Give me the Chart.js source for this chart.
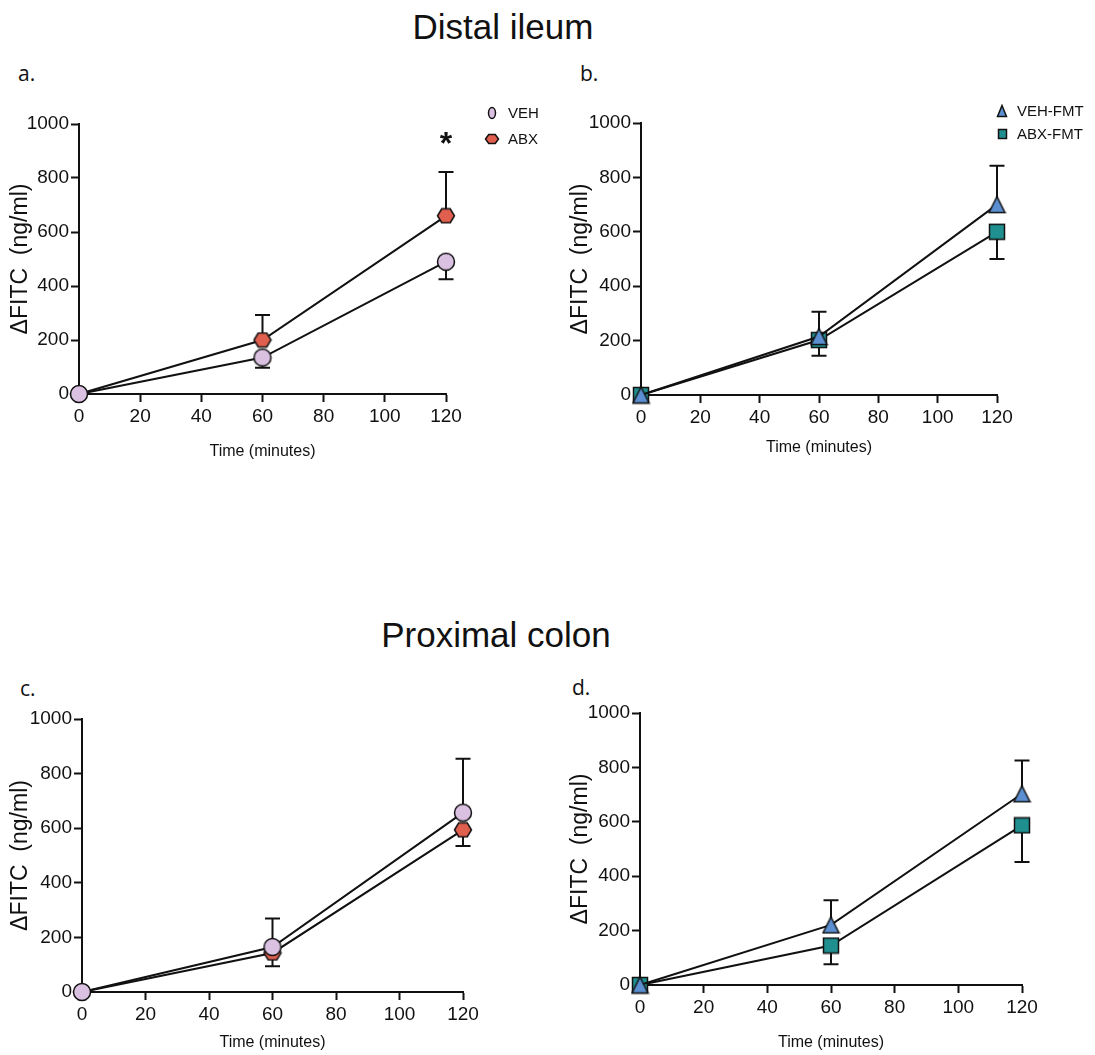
<!DOCTYPE html>
<html>
<head>
<meta charset="utf-8">
<script src="https://cdn.jsdelivr.net/npm/chart.js@4/dist/chart.umd.min.js"></script>
<style>
  body { margin: 0; background: #fff; width: 1095px; height: 1055px; position: relative; overflow: hidden; font-family: 'Liberation Sans', Arial, sans-serif; color: #111; }
  .heading { position: absolute; left: 0; text-align: center; font-size: 35px; line-height: 35px; }
  .tag { position: absolute; font-family: 'Open Sans', sans-serif; font-size: 21px; line-height: 21px; }
  canvas { position: absolute; }
</style>
</head>
<body>
<div class="heading" style="top:9px;width:1006px">Distal ileum</div>
<div class="heading" style="top:617px;width:992px">Proximal colon</div>
<div class="tag" style="left:18px;top:63px">a.</div>
<div class="tag" style="left:580px;top:63px">b.</div>
<div class="tag" style="left:20px;top:678px">c.</div>
<div class="tag" style="left:572px;top:677px">d.</div>

<canvas id="panelA" width="560" height="380" style="left:0;top:90px"></canvas>
<canvas id="panelB" width="535" height="380" style="left:560px;top:90px"></canvas>
<canvas id="panelC" width="560" height="375" style="left:0;top:680px"></canvas>
<canvas id="panelD" width="535" height="375" style="left:560px;top:680px"></canvas>

<script>
const ink = '#111'

const times = [0, 60, 120]
const xTicks = [0, 20, 40, 60, 80, 100, 120]
const yTicks = [0, 200, 400, 600, 800, 1000]

// distal ileum, antibiotics
const ileumVeh = [0, 135, 490]
const ileumVehSem = [0, 38, 65]
const ileumAbx = [0, 200, 660]
const ileumAbxSem = [0, 93, 162]

// distal ileum, after FMT
const ileumVehFmt = [0, 215, 700]
const ileumVehFmtSem = [0, 91, 143]
const ileumAbxFmt = [0, 202, 600]
const ileumAbxFmtSem = [0, 58, 100]

// proximal colon, antibiotics
const colonVeh = [0, 165, 657]
const colonVehSem = [0, 104, 197]
const colonAbx = [0, 143, 594]
const colonAbxSem = [0, 49, 59]

// proximal colon, after FMT
const colonVehFmt = [0, 221, 703]
const colonVehFmtSem = [0, 91, 122]
const colonAbxFmt = [0, 145, 587]
const colonAbxFmtSem = [0, 69, 135]

Chart.defaults.font.family = "'Liberation Sans', Arial, sans-serif"
Chart.defaults.color = ink

// small canvases used as point styles (Chart.js has no hexagon)
function marker(shape, fill, w, h) {
    const lw = 1.5
    const c = document.createElement('canvas')
    c.width = Math.ceil(w + 2 * lw)
    c.height = Math.ceil(h + 2 * lw)
    const g = c.getContext('2d')
    const cx = c.width / 2, cy = c.height / 2
    g.beginPath()
    if (shape === 'circle') {
        g.ellipse(cx, cy, w / 2, h / 2, 0, 0, Math.PI * 2)
    } else if (shape === 'hex') {
        g.moveTo(cx - w / 2, cy)
        g.lineTo(cx - w / 4, cy - h / 2)
        g.lineTo(cx + w / 4, cy - h / 2)
        g.lineTo(cx + w / 2, cy)
        g.lineTo(cx + w / 4, cy + h / 2)
        g.lineTo(cx - w / 4, cy + h / 2)
    } else if (shape === 'tri') {
        g.moveTo(cx, cy - h / 2)
        g.lineTo(cx + w / 2, cy + h / 2)
        g.lineTo(cx - w / 2, cy + h / 2)
    } else {
        g.rect(cx - w / 2, cy - h / 2, w, h)
    }
    g.closePath()
    g.fillStyle = fill
    g.fill()
    g.lineWidth = lw
    g.strokeStyle = ink
    g.stroke()
    return c
}

const groups = {
    VEH: { color: '#dbc1e1', shape: 'circle', size: [17, 17], key: [7, 11] },
    ABX: { color: '#e05f4f', shape: 'hex', size: [17, 14], key: [13, 9] },
    'VEH-FMT': { color: '#5b8fd1', shape: 'tri', size: [16, 16], key: [9, 11] },
    'ABX-FMT': { color: '#1f8f8f', shape: 'rect', size: [15, 15], key: [8, 9] }
}

function series(label, values, sem, dir) {
    const g = groups[label]
    return {
        label: label,
        data: times.map((t, i) => ({ x: t, y: values[i] })),
        sem: sem,
        errDir: dir,
        borderColor: ink,
        borderWidth: 2,
        pointStyle: marker(g.shape, g.color, g.size[0], g.size[1]),
        keyMarker: marker(g.shape, g.color, g.key[0], g.key[1]),
        pointRadius: 8,
        pointHoverRadius: 8,
        clip: false,
        tension: 0
    }
}

// one-sided SEM bars, drawn under the markers
const errorBars = {
    id: 'errorBars',
    beforeDatasetsDraw(chart) {
        const { ctx, scales: { x, y } } = chart
        ctx.save()
        ctx.strokeStyle = ink
        ctx.lineWidth = 2
        chart.data.datasets.forEach(ds => {
            ds.data.forEach((p, i) => {
                const e = ds.sem[i]
                if (!e) return
                const px = x.getPixelForValue(p.x)
                const y0 = y.getPixelForValue(p.y)
                const y1 = y.getPixelForValue(p.y + ds.errDir * e)
                ctx.beginPath()
                ctx.moveTo(px, y0)
                ctx.lineTo(px, y1)
                ctx.moveTo(px - 7.5, y1)
                ctx.lineTo(px + 7.5, y1)
                ctx.stroke()
            })
        })
        ctx.restore()
    }
}

// legend to the right of the plot
const sideKey = {
    id: 'sideKey',
    afterDraw(chart, args, opts) {
        if (!opts.x) return
        const ctx = chart.ctx
        ctx.save()
        ctx.font = "15px 'Liberation Sans', Arial, sans-serif"
        ctx.fillStyle = ink
        ctx.textBaseline = 'middle'
        chart.data.datasets.forEach((ds, i) => {
            const m = ds.keyMarker
            const yy = opts.y + i * opts.step
            ctx.drawImage(m, Math.round(opts.x - m.width / 2), Math.round(yy - m.height / 2))
            ctx.fillText(ds.label, opts.textX, yy + 1)
        })
        ctx.restore()
    }
}

// significance marks
const stars = {
    id: 'stars',
    afterDatasetsDraw(chart, args, opts) {
        if (!opts.marks) return
        const { ctx, scales: { x, y } } = chart
        ctx.save()
        ctx.font = "bold 32px 'Liberation Sans', Arial, sans-serif"
        ctx.fillStyle = ink
        ctx.textAlign = 'center'
        opts.marks.forEach(m => ctx.fillText('*', x.getPixelForValue(m[0]), y.getPixelForValue(m[1])))
        ctx.restore()
    }
}

function drawPanel(id, datasets, box, key, marks) {
    new Chart(document.getElementById(id), {
        type: 'line',
        data: { datasets: datasets },
        plugins: [errorBars, sideKey, stars],
        options: {
            responsive: false,
            animation: false,
            events: [],
            layout: { padding: { top: box.top, right: box.right, left: 0, bottom: 0 } },
            plugins: {
                legend: { display: false },
                tooltip: { enabled: false },
                sideKey: key || {},
                stars: { marks: marks }
            },
            scales: {
                x: {
                    type: 'linear',
                    min: 0,
                    max: 120,
                    afterBuildTicks: s => { s.ticks = xTicks.map(v => ({ value: v })) },
                    afterFit: s => { s.height = box.xh },
                    grid: { drawOnChartArea: false, tickLength: 8, tickWidth: 2, tickColor: ink },
                    border: { color: ink, width: 2 },
                    ticks: { color: ink, font: { size: 19 }, padding: 3, maxRotation: 0, autoSkip: false, callback: v => String(v) },
                    title: { display: true, text: 'Time (minutes)', color: ink, font: { size: 16 }, padding: { top: 0, bottom: box.xPad } }
                },
                y: {
                    min: 0,
                    max: 1000,
                    afterBuildTicks: s => { s.ticks = yTicks.map(v => ({ value: v })) },
                    afterFit: s => { s.width = box.yw },
                    grid: { drawOnChartArea: false, tickLength: 8, tickWidth: 2, tickColor: ink },
                    border: { color: ink, width: 2 },
                    ticks: { color: ink, font: { size: 19 }, padding: 2, callback: v => String(v) },
                    title: { display: true, text: 'ΔFITC  (ng/ml)', color: ink, font: { size: 23 }, padding: { top: 7, bottom: 0 } }
                }
            }
        }
    })
}

drawPanel('panelA', [
    series('VEH', ileumVeh, ileumVehSem, -1),
    series('ABX', ileumAbx, ileumAbxSem, 1)
], { top: 34, right: 114, yw: 79, xh: 76, xPad: 9 }, { x: 492, y: 23, step: 26, textX: 508 }, [[120, 890]])

drawPanel('panelB', [
    series('VEH-FMT', ileumVehFmt, ileumVehFmtSem, 1),
    series('ABX-FMT', ileumAbxFmt, ileumAbxFmtSem, -1)
], { top: 33, right: 98, yw: 81, xh: 75, xPad: 13 }, { x: 442, y: 21, step: 23, textX: 457 })

drawPanel('panelC', [
    series('VEH', colonVeh, colonVehSem, 1),
    series('ABX', colonAbx, colonAbxSem, -1)
], { top: 39, right: 97, yw: 82, xh: 63, xPad: 3 })

drawPanel('panelD', [
    series('VEH-FMT', colonVehFmt, colonVehFmtSem, 1),
    series('ABX-FMT', colonAbxFmt, colonAbxFmtSem, -1)
], { top: 33, right: 73, yw: 80, xh: 70, xPad: 3 })
</script>
</body>
</html>
